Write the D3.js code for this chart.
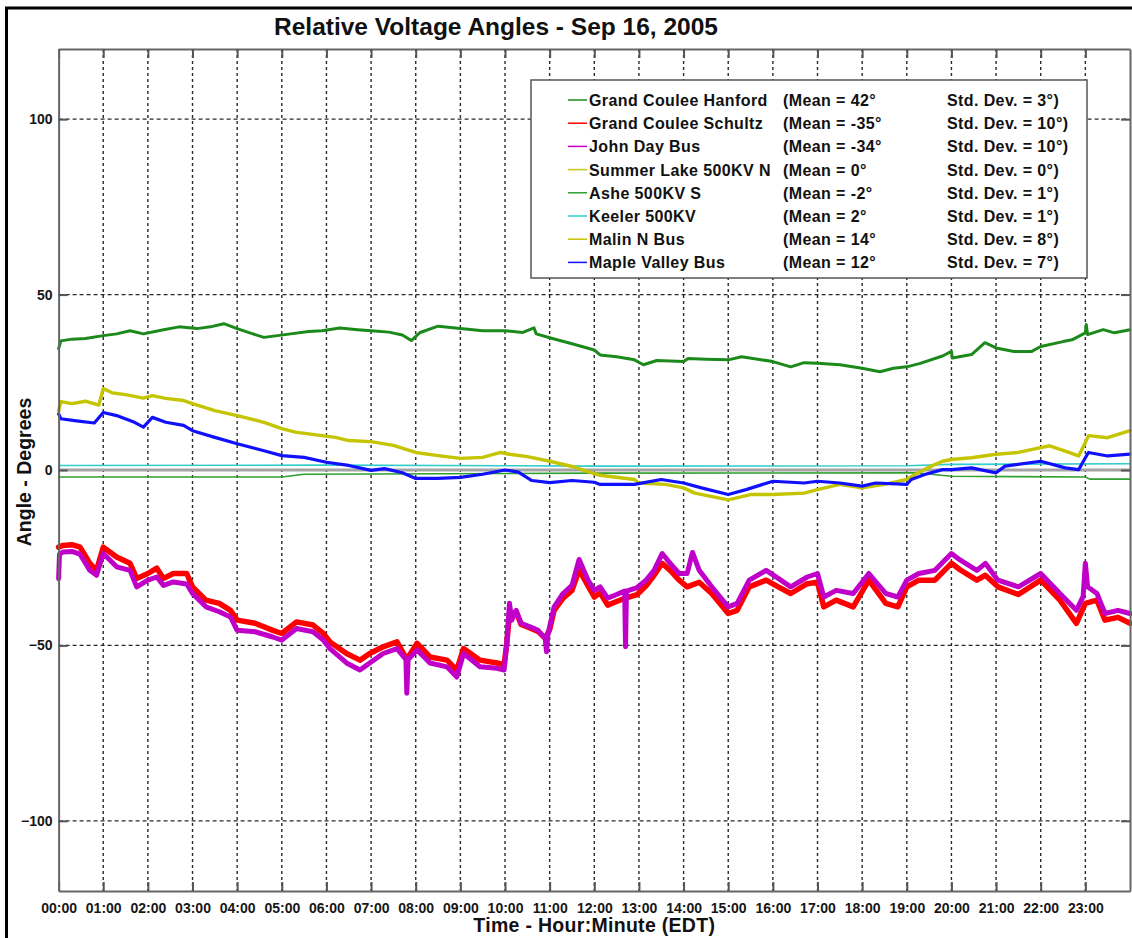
<!DOCTYPE html>
<html>
<head>
<meta charset="utf-8">
<title>Relative Voltage Angles - Sep 16, 2005</title>
<script src="https://cdn.jsdelivr.net/npm/d3@7"></script>
<style>
  html, body { margin: 0; padding: 0; background: #fff; }
  svg { display: block; font-family: Arial, "Liberation Sans", sans-serif; }
</style>
</head>
<body>
<svg id="chart" width="1132" height="938"></svg>
<script>
// ---- data: [hour of day (EDT), relative angle in degrees] ----
const hourLabels = ["00:00","01:00","02:00","03:00","04:00","05:00","06:00","07:00","08:00","09:00","10:00","11:00",
                    "12:00","13:00","14:00","15:00","16:00","17:00","18:00","19:00","20:00","21:00","22:00","23:00"];
const yTickValues = [-100, -50, 0, 50, 100];

const seriesNames = ["Grand Coulee Hanford","Grand Coulee Schultz","John Day Bus","Summer Lake 500KV N",
                     "Ashe 500KV S","Keeler 500KV","Malin N Bus","Maple Valley Bus"];
const seriesMeans = ["42°","-35°","-34°","0°","-2°","2°","14°","12°"];
const seriesStdDev = ["3°","10°","10°","0°","1°","1°","8°","7°"];

const grandCouleeHanford = [
  [0,34.6],[0.05,36.8],[0.3,37.3],[0.6,37.5],[1.0,38.3],[1.3,38.8],[1.6,39.7],[1.9,38.8],[2.35,40],[2.7,40.8],
  [3.1,40.3],[3.4,40.8],[3.7,41.7],[4.0,40.3],[4.3,39],[4.6,37.8],[5.2,38.8],[5.6,39.5],[5.9,39.7],[6.3,40.5],
  [6.7,40],[7.0,39.7],[7.4,39.3],[7.7,38.5],[7.9,36.9],[8.1,39.2],[8.5,41],[9.0,40.3],[9.5,39.7],[10.0,39.7],
  [10.4,39.2],[10.65,40.5],[10.7,38.8],[11.0,37.7],[11.5,36],[12.0,34.2],[12.13,32.8],[12.5,32.3],[12.9,31.4],
  [13.1,30],[13.4,31.2],[14.0,30.9],[14.1,31.8],[14.5,31.6],[15.0,31.4],[15.3,32.3],[15.7,31.5],[16.0,30.9],
  [16.4,29.4],[16.7,30.6],[17.0,30.4],[17.5,30],[18.0,29],[18.4,28],[18.7,29],[19.0,29.4],[19.3,30.4],
  [19.8,32.5],[20.0,33.8],[20.02,31.9],[20.45,32.9],[20.75,36.3],[21.0,34.8],[21.4,33.8],[21.8,33.8],
  [22.0,35.2],[22.5,36.6],[22.7,37.1],[23.0,39.1],[23.02,41.5],[23.05,38.6],[23.4,40],[23.65,39.1],[24.0,40]
];

const grandCouleeSchultz = [
  [0,-22],[0.1,-21.5],[0.3,-21.3],[0.48,-22],[0.7,-26.6],[0.85,-28.6],[1.0,-22],[1.3,-24.8],[1.6,-26.6],
  [1.75,-30.9],[2.0,-29.5],[2.2,-28],[2.35,-30.9],[2.57,-29.5],[2.87,-29.5],[3.0,-33.3],[3.3,-37.1],[3.6,-38],
  [3.85,-40],[4.0,-42.8],[4.4,-43.7],[4.8,-45.7],[5.0,-46.6],[5.33,-43.3],[5.7,-44.2],[5.93,-46.6],[6.08,-49],
  [6.45,-52.3],[6.75,-54.2],[6.97,-52.3],[7.27,-50.4],[7.58,-49],[7.8,-54],[8.03,-49.4],[8.32,-53.3],[8.7,-54.2],
  [8.92,-57],[9.07,-50.9],[9.44,-54.2],[9.82,-55],[9.98,-55.5],[10.04,-49.4],[10.1,-41],[10.25,-40.5],
  [10.36,-44],[10.56,-45],[10.74,-46],[10.9,-48],[11.0,-45.5],[11.1,-40],[11.3,-36.5],[11.5,-34.3],
  [11.66,-28.5],[11.86,-33],[12.0,-36.2],[12.13,-35],[12.3,-38.5],[12.5,-37.5],[12.7,-36.5],[12.96,-35.5],
  [13.16,-33],[13.34,-30],[13.52,-26.6],[13.7,-28.6],[13.9,-31.4],[14.08,-33.3],[14.35,-32],[14.63,-35.2],
  [15.0,-40.9],[15.2,-40],[15.47,-33.3],[15.85,-31.4],[16.12,-33.3],[16.4,-35.2],[16.77,-32.4],[17.0,-32],
  [17.14,-39],[17.42,-37.1],[17.8,-39],[18.15,-31.4],[18.53,-38],[18.8,-39],[19.0,-33.3],[19.27,-31.4],
  [19.63,-31.4],[20.0,-26.6],[20.2,-28.5],[20.57,-31.4],[20.76,-30],[21.04,-33.3],[21.5,-35.5],[22.0,-31.4],
  [22.43,-37.1],[22.8,-43.7],[23.0,-38],[23.26,-37.1],[23.44,-42.8],[23.73,-42],[24.0,-43.7]
];

const johnDayBus = [
  [0,-31],[0.02,-24],[0.1,-23.4],[0.3,-23.2],[0.48,-24],[0.7,-28.6],[0.85,-30],[1.0,-23.8],[1.3,-27.6],
  [1.6,-28.6],[1.75,-33.3],[2.0,-31.4],[2.2,-30.5],[2.35,-32.9],[2.57,-31.9],[2.87,-32.5],[3.0,-35.2],
  [3.3,-39],[3.6,-40.4],[3.85,-41.9],[4.0,-45.7],[4.4,-46.1],[4.8,-47.6],[5.0,-48.5],[5.33,-45.2],[5.7,-46.1],
  [5.93,-48.5],[6.08,-50.9],[6.45,-55],[6.75,-57],[6.97,-55],[7.27,-52.3],[7.58,-50.9],[7.78,-54],[7.8,-63.6],
  [7.83,-54],[8.03,-51.3],[8.32,-55],[8.7,-56.1],[8.92,-59],[9.07,-52.3],[9.44,-56.1],[9.82,-56.5],[9.98,-57],
  [10.04,-49.4],[10.1,-38],[10.15,-42.8],[10.25,-40],[10.36,-43.7],[10.56,-44.7],[10.74,-45.7],[10.9,-48],
  [10.93,-51.8],[10.96,-47],[11.0,-44.7],[11.1,-39],[11.3,-35.2],[11.5,-32.9],[11.66,-25.5],[11.86,-31.4],
  [12.0,-34.3],[12.13,-33.3],[12.3,-36.5],[12.5,-35.5],[12.68,-34.5],[12.7,-50.4],[12.72,-34.5],[12.96,-33.5],
  [13.16,-31.4],[13.34,-28.6],[13.52,-23.8],[13.7,-26.6],[13.9,-29.5],[14.08,-29.5],[14.2,-23.5],[14.35,-28.6],
  [14.63,-33.3],[15.0,-39],[15.2,-38],[15.47,-31.4],[15.85,-28.6],[16.12,-30.9],[16.4,-33.3],[16.77,-30.5],
  [17.0,-29.5],[17.14,-36.2],[17.42,-34.3],[17.8,-35.2],[18.15,-29.5],[18.53,-35.2],[18.8,-36.2],[19.0,-31.4],
  [19.27,-29.5],[19.63,-28.6],[20.0,-23.8],[20.2,-25.7],[20.57,-28.6],[20.76,-26.6],[21.04,-31.4],[21.5,-33.3],
  [22.0,-29.5],[22.43,-35.2],[22.8,-40],[22.95,-36],[23.0,-26.6],[23.05,-33.3],[23.26,-35.2],[23.44,-40.9],
  [23.73,-40],[24.0,-40.9]
];

const summerLake = [[0,0],[24,0]];

const ashe = [[0,-2],[5,-2],[5.5,-1.2],[12,-0.9],[19.2,-0.8],[20,-1.8],[23,-2],[23.1,-2.6],[24,-2.6]];

const keeler = [[0,1.3],[6,1.4],[12,1.1],[19,1.2],[20,1.6],[24,1.8]];

const malinN = [
  [0,16.9],[0.05,19.5],[0.3,18.9],[0.6,19.6],[0.9,18.5],[1.0,23.2],[1.2,22],[1.5,21.5],[1.9,20.5],[2.1,21.2],
  [2.4,20.4],[2.8,19.8],[3.0,18.9],[3.5,16.9],[4.0,15.5],[4.6,13.6],[5.0,11.8],[5.3,10.8],[5.9,9.8],[6.2,9.3],
  [6.5,8.4],[7.0,8.1],[7.5,7],[8.0,5],[8.5,4.1],[9.0,3.3],[9.5,3.6],[9.9,5],[10.1,4.5],[10.5,3.8],[11.0,2.5],
  [11.5,1.0],[12.0,-1.0],[12.13,-1.5],[12.9,-2.7],[13.0,-3.7],[13.6,-4.1],[14.0,-5.1],[14.25,-6.6],[15.0,-8.5],
  [15.5,-7],[16.0,-7],[16.7,-6.6],[17.0,-5.6],[17.5,-4.1],[18.0,-5.1],[18.5,-4.1],[19.0,-2.7],[19.25,-0.8],
  [19.55,1.1],[19.8,2.5],[20.0,3],[20.45,3.5],[21.0,4.5],[21.5,5],[22.0,6.4],[22.2,6.9],[22.55,5.4],[22.85,4],
  [23.0,7.8],[23.07,9.8],[23.5,9.2],[24.0,11.2]
];

const mapleValley = [
  [0,16],[0.05,14.6],[0.4,14],[0.8,13.4],[1.0,16.4],[1.3,15.5],[1.7,13.6],[1.9,12.2],[2.1,15],[2.4,13.6],
  [2.8,12.7],[3.0,11.2],[3.5,9.3],[4.0,7.5],[4.6,5.5],[5.0,4.1],[5.5,3.6],[6.0,2.2],[6.5,1.3],[7.0,-0.1],
  [7.3,0.4],[7.7,-0.8],[8.0,-2.4],[8.5,-2.4],[9.0,-2.1],[9.5,-1.2],[10.0,0],[10.3,-0.6],[10.6,-3],[11.0,-3.6],
  [11.5,-3],[12.0,-3.5],[12.13,-4.1],[12.9,-4.1],[13.5,-2.7],[14.0,-3.7],[14.4,-5.1],[15.0,-7],[15.4,-5.6],
  [16.0,-3.2],[16.7,-3.7],[17.0,-3.2],[17.5,-3.7],[18.0,-4.6],[18.3,-3.7],[19.0,-4.1],[19.1,-2.7],[19.4,-1.3],
  [19.8,0.1],[20.0,0.1],[20.45,0.6],[21.0,-0.8],[21.2,1.1],[22.0,2.5],[22.55,0.6],[22.85,0.1],[23.0,3.5],
  [23.07,5],[23.5,4],[24.0,4.5]
];

const seriesData = [grandCouleeHanford, grandCouleeSchultz, johnDayBus, summerLake, ashe, keeler, malinN, mapleValley];
const seriesColors = ["#1b8a1b","#ff0000","#c000c8","#c8c81e","#2f9f2f","#33cccc","#c4c400","#1010ff"];
const seriesWidths = [3, 5.5, 5, 1.5, 1.6, 1.6, 3.4, 3.2];

// ---- layout ----
const svg = d3.select("#chart");
const W = 1132, H = 938;
const plot = { left: 58.6, right: 1130, top: 49, bottom: 891 };

svg.append("rect").attr("width", W).attr("height", H).attr("fill", "#fff");

// outer frame edges (left and top)
svg.append("path")
  .attr("d", `M6.5,${H} L6.5,8 L${W},8`)
  .attr("fill", "none").attr("stroke", "#000").attr("stroke-width", 3);

const x = d3.scaleLinear().domain([0, 24]).range([plot.left, plot.right]);
const y = d3.scaleLinear().domain([-120, 120]).range([plot.bottom, plot.top]);

// grid
const grid = svg.append("g").attr("class", "grid");
grid.selectAll("line.vg").data(d3.range(1, 24)).join("line")
  .attr("x1", d => x(d)).attr("x2", d => x(d))
  .attr("y1", plot.top).attr("y2", plot.bottom)
  .attr("stroke", "#2a2a2a").attr("stroke-width", 1.4).attr("stroke-dasharray", "3,3");
grid.selectAll("line.hg").data(yTickValues).join("line")
  .attr("x1", plot.left).attr("x2", plot.right)
  .attr("y1", d => y(d)).attr("y2", d => y(d))
  .attr("stroke", "#2a2a2a").attr("stroke-width", 1.4).attr("stroke-dasharray", "4,3");

// traces
const line = d3.line().x(d => x(d[0])).y(d => y(d[1]));
const traces = svg.append("g").attr("class", "traces");
seriesData.forEach((data, i) => {
  traces.append("path").datum(data)
    .attr("d", line)
    .attr("fill", "none")
    .attr("stroke", seriesColors[i])
    .attr("stroke-width", seriesWidths[i])
    .attr("stroke-linejoin", "round")
    .attr("stroke-linecap", "round");
  if (i === 3) {
    // zero reference rule sits over the reference-bus trace
    traces.append("line")
      .attr("x1", plot.left).attr("x2", plot.right)
      .attr("y1", y(0)).attr("y2", y(0))
      .attr("stroke", "#a4a4a4").attr("stroke-width", 3);
  }
});

// axes (ticks point inward)
const tickStyle = g => {
  g.selectAll(".domain").attr("stroke", "#666").attr("stroke-width", 2);
  g.selectAll(".tick line").attr("stroke", "#555").attr("stroke-width", 2);
  g.selectAll(".tick text").attr("fill", "#161616").attr("font-size", 14).attr("font-weight", "bold")
    .attr("font-family", "Arial, 'Liberation Sans', sans-serif");
};

svg.append("g").attr("transform", `translate(0,${plot.bottom})`)
  .call(d3.axisBottom(x).tickValues(d3.range(0, 24)).tickFormat(i => hourLabels[i])
        .tickSize(-9).tickSizeOuter(0).tickPadding(12))
  .call(tickStyle);
svg.append("g").attr("transform", `translate(0,${plot.top})`)
  .call(d3.axisTop(x).tickValues(d3.range(0, 24)).tickFormat("").tickSize(-9).tickSizeOuter(0))
  .call(tickStyle);
svg.append("g").attr("transform", `translate(${plot.left},0)`)
  .call(d3.axisLeft(y).tickValues(yTickValues).tickFormat(d3.format("d")).tickSize(-9).tickSizeOuter(0).tickPadding(6))
  .call(tickStyle);
svg.append("g").attr("transform", `translate(${plot.right},0)`)
  .call(d3.axisRight(y).tickValues(yTickValues).tickFormat("").tickSize(-9).tickSizeOuter(0))
  .call(tickStyle);

// titles
svg.append("text").attr("x", 496).attr("y", 35).attr("text-anchor", "middle")
  .attr("font-size", 24.5).attr("font-weight", "bold").attr("fill", "#111")
  .text("Relative Voltage Angles - Sep 16, 2005");
svg.append("text").attr("x", (plot.left + plot.right) / 2).attr("y", 932).attr("text-anchor", "middle")
  .attr("font-size", 19.5).attr("font-weight", "bold").attr("fill", "#111").attr("letter-spacing", 0.3)
  .text("Time - Hour:Minute (EDT)");
svg.append("text").attr("transform", "translate(31,472) rotate(-90)").attr("text-anchor", "middle")
  .attr("font-size", 19.5).attr("font-weight", "bold").attr("fill", "#111")
  .text("Angle - Degrees");

// legend
const legend = svg.append("g").attr("class", "legend");
legend.append("rect").attr("x", 531).attr("y", 80).attr("width", 556).attr("height", 198)
  .attr("fill", "#fff").attr("stroke", "#555").attr("stroke-width", 1.5);
seriesNames.forEach((name, i) => {
  const cy = 100 + i * 23.2;
  const row = legend.append("g").attr("font-size", 16).attr("font-weight", "bold").attr("fill", "#111")
    .attr("letter-spacing", 0.4);
  row.append("line").attr("x1", 568).attr("x2", 587).attr("y1", cy).attr("y2", cy)
    .attr("stroke", seriesColors[i]).attr("stroke-width", 1.5);
  row.append("text").attr("x", 589).attr("y", cy + 6).text(name);
  row.append("text").attr("x", 783).attr("y", cy + 6).text("(Mean = " + seriesMeans[i]);
  row.append("text").attr("x", 947).attr("y", cy + 6).text("Std. Dev. = " + seriesStdDev[i] + ")");
});
</script>
</body>
</html>
